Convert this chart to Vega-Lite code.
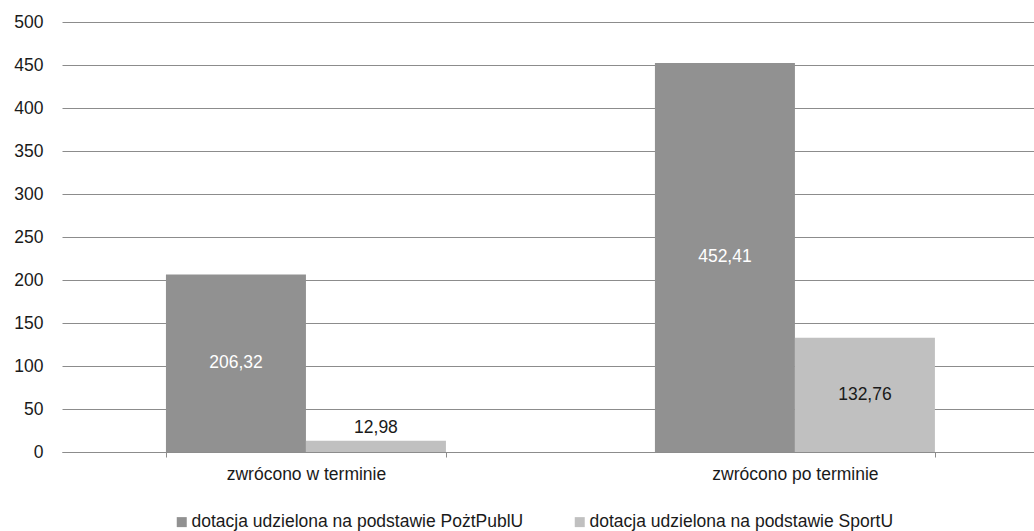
{
  "$schema": "https://vega.github.io/schema/vega-lite/v6.json",
  "autosize": "none",
  "width": 972,
  "height": 430,
  "padding": {"left": 62, "top": 22, "right": 0, "bottom": 79},
  "background": "white",
  "config": {
    "font": "Liberation Sans",
    "view": {"stroke": null},
    "locale": {"number": {"decimal": ",", "thousands": " ", "grouping": [3], "currency": ["", " zł"]}},
    "axis": {"labelFont": "Liberation Sans", "labelFontSize": 17.5, "labelColor": "#1a1a1a"}
  },
  "data": {
    "values": [
      {"kategoria": "zwrócono w terminie", "seria": "dotacja udzielona na podstawie PożtPublU", "wartosc": 206.32},
      {"kategoria": "zwrócono w terminie", "seria": "dotacja udzielona na podstawie SportU", "wartosc": 12.98},
      {"kategoria": "zwrócono po terminie", "seria": "dotacja udzielona na podstawie PożtPublU", "wartosc": 452.41},
      {"kategoria": "zwrócono po terminie", "seria": "dotacja udzielona na podstawie SportU", "wartosc": 132.76}
    ]
  },
  "encoding": {
    "x": {
      "field": "kategoria",
      "type": "nominal",
      "sort": ["zwrócono w terminie", "zwrócono po terminie"],
      "scale": {"paddingInner": 0.4274, "paddingOuter": 0.2076, "align": 0.512},
      "axis": {
        "title": null,
        "labelAngle": 0,
        "tickBand": "extent",
        "tickSize": 5,
        "tickColor": "#8c8c8c",
        "domainColor": "#8c8c8c",
        "labelPadding": 8,
        "labelBaseline": "top",
        "labelLimit": 400
      }
    },
    "xOffset": {
      "field": "seria",
      "type": "nominal",
      "sort": ["dotacja udzielona na podstawie PożtPublU", "dotacja udzielona na podstawie SportU"],
      "scale": {"paddingInner": 0, "paddingOuter": 0}
    }
  },
  "layer": [
    {
      "mark": {"type": "bar"},
      "encoding": {
        "y": {
          "field": "wartosc",
          "type": "quantitative",
          "scale": {"domain": [0, 500]},
          "axis": {
            "title": null,
            "values": [0, 50, 100, 150, 200, 250, 300, 350, 400, 450, 500],
            "domain": false,
            "ticks": false,
            "labelPadding": 19,
            "grid": true,
            "gridColor": "#8c8c8c",
            "gridWidth": 1
          }
        },
        "color": {
          "field": "seria",
          "type": "nominal",
          "sort": ["dotacja udzielona na podstawie PożtPublU", "dotacja udzielona na podstawie SportU"],
          "scale": {"range": ["#919191", "#c0c0c0"]},
          "legend": {
            "title": null,
            "orient": "none",
            "direction": "horizontal",
            "legendX": 111,
            "legendY": 491,
            "symbolType": "square",
            "symbolSize": 100,
            "symbolStrokeWidth": 0,
            "labelFont": "Liberation Sans",
            "labelFontSize": 17.5,
            "labelColor": "#1a1a1a",
            "labelOffset": 1,
            "columnPadding": 47,
            "labelLimit": 500
          }
        }
      }
    },
    {
      "transform": [
        {"filter": "datum.wartosc >= 30"},
        {"calculate": "datum.wartosc / 2", "as": "srodek"}
      ],
      "mark": {"type": "text", "fontSize": 17.5, "baseline": "middle", "align": "center"},
      "encoding": {
        "y": {"field": "srodek", "type": "quantitative"},
        "text": {"field": "wartosc", "type": "quantitative", "format": ".2f"},
        "color": {
          "condition": {"test": "datum.seria === 'dotacja udzielona na podstawie PożtPublU'", "value": "white"},
          "value": "#1a1a1a"
        }
      }
    },
    {
      "transform": [{"filter": "datum.wartosc < 30"}],
      "mark": {"type": "text", "fontSize": 17.5, "baseline": "alphabetic", "align": "center", "dy": -8, "color": "#1a1a1a"},
      "encoding": {
        "y": {"field": "wartosc", "type": "quantitative"},
        "text": {"field": "wartosc", "type": "quantitative", "format": ".2f"}
      }
    }
  ]
}
